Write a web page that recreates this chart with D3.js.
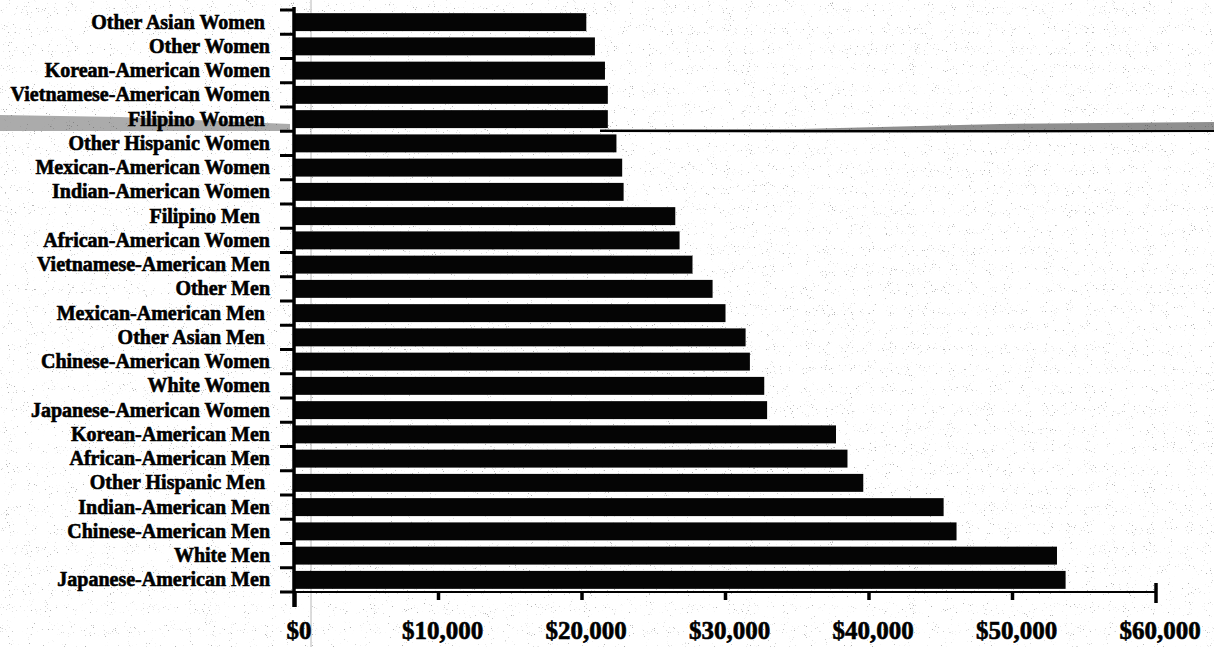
<!DOCTYPE html>
<html>
<head>
<meta charset="utf-8">
<script src="https://cdn.jsdelivr.net/npm/d3@7"></script>
<style>
  html, body { margin: 0; padding: 0; background: #fff; }
  svg { display: block; }
  .lab { font-family: "Liberation Serif", "Times New Roman", serif; font-weight: bold; white-space: pre; }
</style>
</head>
<body>
<div id="chart"></div>
<script>
// categories top to bottom
var groups = [
  "Other Asian Women ", "Other Women", "Korean-American Women", "Vietnamese-American Women",
  "Filipino Women ", "Other Hispanic Women", "Mexican-American Women", "Indian-American Women",
  "Filipino Men  ", "African-American Women", "Vietnamese-American Men", "Other Men",
  "Mexican-American Men ", "Other Asian Men ", "Chinese-American Women", "White Women",
  "Japanese-American Women", "Korean-American Men", "African-American Men", "Other Hispanic Men ",
  "Indian-American Men", "Chinese-American Men", "White Men", "Japanese-American Men"
];

// median earnings
var earnings = [
  20300, 20900, 21600, 21800,
  21800, 22400, 22800, 22900,
  26500, 26800, 27700, 29100,
  30000, 31400, 31700, 32700,
  32900, 37700, 38500, 39600,
  45200, 46100, 53100, 53700
];

var xTicks = [0, 10000, 20000, 30000, 40000, 50000, 60000];

function ready() {
  var W = 1214, H = 647;

  var svg = d3.select('#chart').append('svg')
      .attr('width', W)
      .attr('height', H);

  // scanner speckle
  var defs = svg.append('defs');
  var f = defs.append('filter').attr('id', 'speckle')
      .attr('x', 0).attr('y', 0).attr('width', '100%').attr('height', '100%');
  f.append('feTurbulence')
      .attr('type', 'fractalNoise')
      .attr('baseFrequency', 0.95)
      .attr('numOctaves', 2)
      .attr('seed', 7);
  f.append('feColorMatrix')
      .attr('type', 'matrix')
      .attr('values', '0 0 0 0 0  0 0 0 0 0  0 0 0 0 0  -10 0 0 0 2.9');

  svg.append('rect').attr('width', W).attr('height', H).attr('fill', '#fff');
  svg.append('rect').attr('width', W).attr('height', H)
      .attr('filter', 'url(#speckle)').attr('opacity', 0.3);

  var x = d3.scaleLinear().domain([0, 60000]).range([295, 1156]);
  var y = d3.scaleBand().domain(groups).range([10, 592])
      .paddingInner(0.26).paddingOuter(0.13);

  // scan artefacts behind the marks: thin vertical crease and the dark smear
  svg.append('line')
      .attr('x1', 311).attr('x2', 311)
      .attr('y1', 0).attr('y2', H)
      .attr('stroke', '#888').attr('stroke-width', 1).attr('opacity', 0.6);

  svg.append('path')
      .attr('d', 'M0,115 L120,117 L290,124 L290,131 L0,131 Z')
      .attr('fill', '#444').attr('opacity', 0.45);
  svg.append('path')
      .attr('d', 'M600,129 L800,129 L1000,124 L1214,122 L1214,132 L1000,133 L800,133 L600,132 Z')
      .attr('fill', '#333').attr('opacity', 0.55);
  svg.append('line')
      .attr('x1', 600).attr('x2', 1214)
      .attr('y1', 131).attr('y2', 131)
      .attr('stroke', '#000').attr('stroke-width', 2);

  // bars
  svg.selectAll('rect.bar')
      .data(groups)
      .enter().append('rect')
      .attr('class', 'bar')
      .attr('x', x(0))
      .attr('y', function(d) { return y(d); })
      .attr('width', function(d, i) { return x(earnings[i]) - x(0); })
      .attr('height', y.bandwidth())
      .attr('fill', '#050505');

  // category labels
  svg.selectAll('text.cat')
      .data(groups)
      .enter().append('text')
      .attr('class', 'lab cat')
      .attr('x', 270)
      .attr('y', function(d) { return y(d) + y.bandwidth() / 2; })
      .attr('dy', '0.33em')
      .attr('text-anchor', 'end')
      .attr('font-size', 20)
      .attr('fill', '#000')
      .attr('stroke', '#000')
      .attr('stroke-width', 0.6)
      .text(function(d) { return d; });

  // y axis with ticks between the bars
  var half = y.step() * y.paddingInner() / 2;
  var bounds = groups.map(function(d) { return y(d) - half; });
  bounds.push(y(groups[groups.length - 1]) + y.bandwidth() + half);

  svg.append('line')
      .attr('x1', 294).attr('x2', 294)
      .attr('y1', 7).attr('y2', 607)
      .attr('stroke', '#000').attr('stroke-width', 3.5);

  svg.selectAll('line.ytick')
      .data(bounds)
      .enter().append('line')
      .attr('class', 'ytick')
      .attr('x1', 280).attr('x2', 294)
      .attr('y1', function(d) { return d; })
      .attr('y2', function(d) { return d; })
      .attr('stroke', '#000').attr('stroke-width', 3);

  // x axis
  var axisY = 592;
  svg.append('line')
      .attr('x1', x(0)).attr('x2', x(60000))
      .attr('y1', axisY).attr('y2', axisY)
      .attr('stroke', '#000').attr('stroke-width', 2);

  svg.selectAll('line.xtick')
      .data(xTicks)
      .enter().append('line')
      .attr('class', 'xtick')
      .attr('x1', function(d) { return x(d); })
      .attr('x2', function(d) { return x(d); })
      .attr('y1', function(d) { return d == 60000 ? 583 : axisY; })
      .attr('y2', function(d) { return d == 0 ? 607 : (d == 60000 ? 603 : 600); })
      .attr('stroke', '#000').attr('stroke-width', 3.5);

  svg.selectAll('text.xlab')
      .data(xTicks)
      .enter().append('text')
      .attr('class', 'lab xlab')
      .attr('x', function(d) { return x(d) + 4; })
      .attr('y', 639)
      .attr('text-anchor', 'middle')
      .attr('font-size', 25)
      .attr('fill', '#000')
      .attr('stroke', '#000')
      .attr('stroke-width', 0.6)
      .text(function(d) { return '$' + d3.format(',')(d); });
}

ready();
</script>
</body>
</html>
